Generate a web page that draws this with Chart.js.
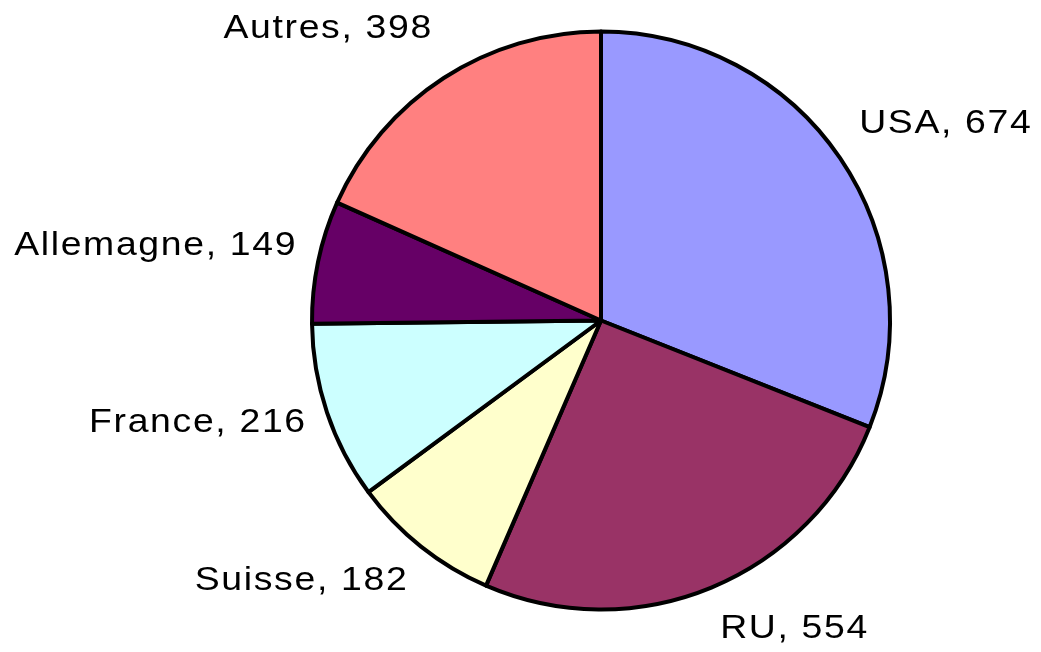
<!DOCTYPE html>
<html>
<head>
<meta charset="utf-8">
<script src="https://cdn.jsdelivr.net/npm/chart.js@4/dist/chart.umd.min.js"></script>
<style>
  html, body { margin: 0; padding: 0; background: #ffffff; }
  #wrap { width: 1041px; height: 652px; }
</style>
</head>
<body>
<div id="wrap"><canvas id="c" width="1041" height="652"></canvas></div>
<script>
const categories = ["USA", "RU", "Suisse", "France", "Allemagne", "Autres"];
const values = [674, 554, 182, 216, 149, 398];
const sliceColors = ["#9999FF", "#993366", "#FFFFCC", "#CCFFFF", "#660066", "#FF8080"];

const FONT_PX = 34;
const LABEL_FONT = FONT_PX + "px 'Liberation Sans', Arial, Helvetica, sans-serif";
const LETTER_SPACING = 1.5;
const H_SCALE = 1.1;

const outsideLabels = {
  id: 'outsideLabels',
  afterDatasetsDraw(chart) {
    const ctx = chart.ctx;
    const meta = chart.getDatasetMeta(0);
    ctx.save();
    ctx.font = LABEL_FONT;
    ctx.fillStyle = '#000000';
    ctx.textBaseline = 'alphabetic';
    ctx.textAlign = 'left';
    const hasLS = ('letterSpacing' in ctx);
    if (hasLS) ctx.letterSpacing = LETTER_SPACING + 'px';
    const capH = FONT_PX * 0.716;
    meta.data.forEach((arc, i) => {
      const p = arc.getProps(['x', 'y', 'startAngle', 'endAngle', 'outerRadius'], true);
      const mid = (p.startAngle + p.endAngle) / 2;
      const dx = Math.cos(mid), dy = Math.sin(mid);
      const text = categories[i] + ', ' + values[i];
      let w = ctx.measureText(text).width;
      if (hasLS) w -= LETTER_SPACING;
      w *= H_SCALE;
      const ax = p.x + (p.outerRadius + 23) * dx;
      const cy = p.y + (p.outerRadius + 51) * dy - 9;
      const x = dx >= 0 ? ax : ax - w;
      ctx.save();
      ctx.translate(x, cy + capH / 2);
      ctx.scale(H_SCALE, 1);
      ctx.fillText(text, 0, 0);
      ctx.restore();
    });
    ctx.restore();
  }
};

new Chart(document.getElementById('c'), {
  type: 'pie',
  data: {
    labels: categories,
    datasets: [{
      data: values,
      backgroundColor: sliceColors,
      borderColor: '#000000',
      borderWidth: 4,
      hoverBorderWidth: 4,
      borderJoinStyle: 'round'
    }]
  },
  options: {
    responsive: false,
    devicePixelRatio: 1,
    animation: false,
    layout: { padding: { left: 310, right: 149, top: 29.5, bottom: 40.5 } },
    plugins: {
      legend: { display: false },
      tooltip: { enabled: false }
    }
  },
  plugins: [outsideLabels]
});
</script>
</body>
</html>
